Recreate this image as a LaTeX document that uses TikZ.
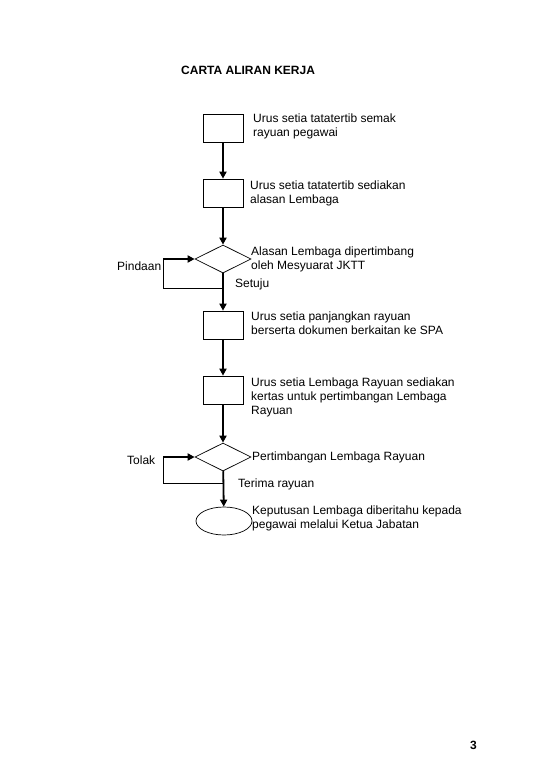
\documentclass[tikz,border=0pt]{standalone}
\usepackage{fontspec}
\setmainfont{Liberation Sans}
\usetikzlibrary{shapes.geometric,arrows.meta}
\begin{document}
\begin{tikzpicture}[x=1pt,y=-1pt,
  every node/.style={font=\fontsize{12}{14}\selectfont},
  boxstep/.style={draw,line width=0.7pt,minimum width=40pt,minimum height=28pt,inner sep=0pt},
  decide/.style={draw,diamond,line width=0.7pt,minimum width=56pt,minimum height=28pt,inner sep=0pt},
  endstep/.style={draw,ellipse,line width=0.7pt,minimum width=56pt,minimum height=28pt,inner sep=0pt},
  lbl/.style={anchor=north west,align=left,inner sep=0pt},
  side/.style={anchor=west,inner sep=0pt},
  flow/.style={line width=1.8pt,-{Triangle[length=7pt,width=7pt]}},
  thinline/.style={line width=0.8pt}]
\useasboundingbox (0,0) rectangle (540,780);
\node[font=\bfseries\fontsize{12}{14}\selectfont,anchor=west,inner sep=0pt] (title) at (181,70) {CARTA ALIRAN KERJA};
\node[boxstep] (b1) at (223,128.5) {};
\node[boxstep] (b2) at (223,193) {};
\node[decide] (d1) at (223,259) {};
\node[boxstep] (b3) at (223,325) {};
\node[boxstep] (b4) at (223,390) {};
\node[decide] (d2) at (223,457) {};
\node[endstep] (e1) at (224,521) {};
\node[lbl] (t1) at (253,114) {Urus setia tatatertib semak\\rayuan pegawai};
\node[lbl] (t2) at (250,181) {Urus setia tatatertib sediakan\\alasan Lembaga};
\node[lbl] (t3) at (251,247) {Alasan Lembaga dipertimbang\\oleh Mesyuarat JKTT};
\node[side] (pind) at (117,266) {Pindaan};
\node[side] (setuju) at (235,284) {Setuju};
\node[lbl] (t4) at (251,312) {Urus setia panjangkan rayuan\\berserta dokumen berkaitan ke SPA};
\node[lbl] (t5) at (251,378) {Urus setia Lembaga Rayuan sediakan\\kertas untuk pertimbangan Lembaga\\Rayuan};
\node[side] (t6) at (252,457) {Pertimbangan Lembaga Rayuan};
\node[side] (tolak) at (127,460) {Tolak};
\node[side] (terima) at (238,484) {Terima rayuan};
\node[lbl] (t7) at (252,506) {Keputusan Lembaga diberitahu kepada\\pegawai melalui Ketua Jabatan};
\node[side,font=\bfseries\fontsize{12}{14}\selectfont] (pg) at (470,745) {3};
\coordinate (j1) at (223,288);
\coordinate (c1) at (163,288);
\coordinate (j2) at (223,483);
\coordinate (c2) at (163,483);
\draw[flow] (b1) -- (b2);
\draw[flow] (b2) -- (d1);
\draw[flow] (d1) -- (b3);
\draw[flow] (b3) -- (b4);
\draw[flow] (b4) -- (d2);
\draw[flow] (d2) -- (e1);
\draw[thinline] (j1) -- (c1) -- (c1 |- d1.west);
\draw[flow] (c1 |- d1.west) -- (d1.west);
\draw[thinline] (j2) -- (c2) -- (c2 |- d2.west);
\draw[flow] (c2 |- d2.west) -- (d2.west);
\end{tikzpicture}
\end{document}
